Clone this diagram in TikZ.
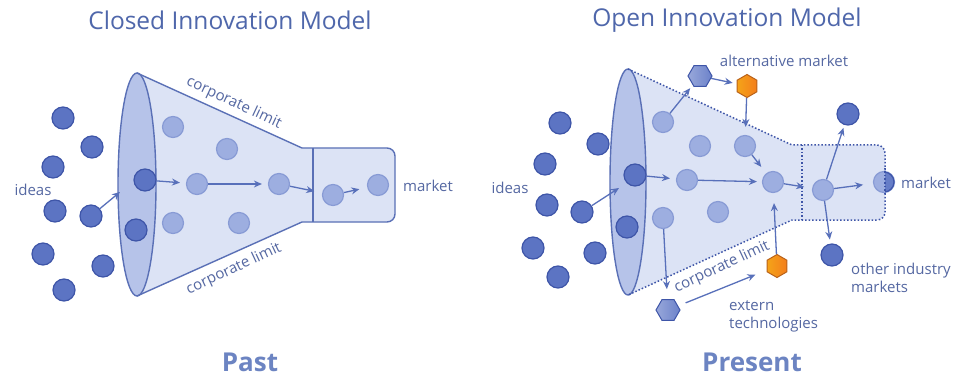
\documentclass[tikz,border=0pt]{standalone}
\usepackage{fontspec}
\setmainfont{Open Sans}
\usetikzlibrary{arrows.meta,shapes.geometric}
\definecolor{funfill}{HTML}{DCE3F5}
\definecolor{funedge}{HTML}{5A70B6}
\definecolor{ellfill}{HTML}{B6C3E9}
\definecolor{lcfill}{HTML}{9DAEE0}
\definecolor{lcedge}{HTML}{889BD5}
\definecolor{dcfill}{HTML}{5C74C3}
\definecolor{dcedge}{HTML}{3E55A8}
\definecolor{arrc}{HTML}{5870BA}
\definecolor{txtc}{HTML}{5568A2}
\definecolor{titc}{HTML}{4F67AB}
\definecolor{pastc}{HTML}{6C84C2}
\definecolor{orfill}{HTML}{F28C1F}
\definecolor{oredge}{HTML}{B9621A}
\definecolor{hbfill}{HTML}{6C82CA}
\tikzset{
  lc/.style={circle,minimum size=21pt,inner sep=0pt,fill=lcfill,draw=lcedge,line width=1.2pt},
  dc/.style={circle,minimum size=22pt,inner sep=0pt,fill=dcfill,draw=dcedge,line width=1.2pt},
  arr/.style={draw=arrc,line width=1.3pt,-{Stealth[length=8pt,width=7pt]}},
  lbl/.style={text=txtc,font=\fontsize{15}{17}\selectfont,inner sep=0pt},
  titl/.style={text=titc,font=\fontsize{24.5}{28}\selectfont},
  era/.style={text=pastc,font=\fontsize{26}{29}\selectfont\bfseries},
  funpath/.style={fill=funfill},
  funline/.style={draw=funedge,line width=1.4pt,line join=round},
  fundot/.style={draw=dcedge,line width=1.5pt,dash pattern=on 1.5pt off 2pt},
  ellip/.style={fill=ellfill,draw=funedge,line width=1.4pt},
  ohex/.style={regular polygon,regular polygon sides=6,shape border rotate=30,minimum size=23pt,inner sep=0pt,left color=orfill!80!yellow,right color=orfill!90!red,draw=oredge,line width=1pt},
  bhex/.style={regular polygon,regular polygon sides=6,minimum size=24pt,inner sep=0pt,left color=hbfill!70!white,right color=hbfill,draw=dcedge,line width=1pt}
}
\begin{document}
\begin{tikzpicture}[x=1pt,y=-1pt]
\useasboundingbox[fill=white] (0,0) rectangle (956,377);
% ================= LEFT: Closed =================
\node[titl] (t1) at (230,20) {Closed Innovation Model};
\node[era] (p1) at (250,362) {Past};
\fill[funpath] (137,73) -- (302,148) -- (387,148) to[out=0,in=90] (395,156) -- (395,214) to[out=-90,in=0] (387,222) -- (302,222) -- (137,296) -- cycle;
\filldraw[ellip] (137,184.5) ellipse [x radius=19pt, y radius=111.5pt];
\draw[funline] (137,73) -- (302,148) -- (387,148) to[out=0,in=90] (395,156) -- (395,214) to[out=-90,in=0] (387,222) -- (302,222) -- (137,296);
\draw[funline] (313,148) -- (313,222);
\node[lbl,rotate=-25] (cl1) at (234,103) {corporate limit};
\node[lbl,rotate=25] (cl2) at (234,269) {corporate limit};
\node[lbl] (id1) at (33,190) {ideas};
\node[lbl] (mk1) at (428,186) {market};
% ideas outside
\node[dc] (i1) at (63,118) {};
\node[dc] (i2) at (92,147) {};
\node[dc] (i3) at (53,167) {};
\node[dc] (i4) at (55,211) {};
\node[dc] (i5) at (91,216) {};
\node[dc] (i6) at (43,254) {};
\node[dc] (i7) at (103,266) {};
\node[dc] (i8) at (64,290) {};
% on ellipse
\node[dc] (d1) at (145,180) {};
\node[dc] (d2) at (136,230) {};
% inside
\node[lc] (c1) at (173,127) {};
\node[lc] (c2) at (227,149) {};
\node[lc] (c3) at (197,184) {};
\node[lc] (c4) at (279,184) {};
\node[lc] (c5) at (173,223) {};
\node[lc] (c6) at (239,223) {};
\node[lc] (c7) at (333,195) {};
\node[lc] (c8) at (378,185) {};
\coordinate (e1) at (120,192);
\draw[arr] (i5) -- (e1);
\draw[arr,shorten >=6pt] (d1) -- (c3);
\draw[arr,shorten >=6pt] (c3) -- (c4);
\draw[arr,shorten >=8pt] (c4) -- (c7);
\draw[arr,shorten >=8pt] (c7) -- (c8);
% ================= RIGHT: Open =================
\node[titl] (t2) at (727,20) {Open Innovation Model};
\node[era] (p2) at (752,362) {Present};
\fill[funpath] (628,69) -- (792,145) -- (877,145) to[out=0,in=90] (885,153) -- (885,212) to[out=-90,in=0] (877,220) -- (792,220) -- (628,295) -- cycle;
\filldraw[ellip] (628,182) ellipse [x radius=18pt, y radius=113pt];
\draw[fundot] (628,69) -- (792,145) -- (877,145) to[out=0,in=90] (885,153) -- (885,212) to[out=-90,in=0] (877,220) -- (792,220) -- (628,295);
\draw[fundot] (802,145) -- (802,220);
\node[lbl,rotate=25] (cl3) at (722,267) {corporate limit};
\node[lbl] (id2) at (510,188) {ideas};
\node[lbl] (mk3) at (926,183) {market};
\node[lbl] (am) at (784,61) {alternative market};
\node[lbl,align=left,anchor=west] (oim) at (851,278) {other industry\\[1pt]markets};
\node[lbl,align=left,anchor=west] (et) at (729,316) {extern\\[1pt]technologies};
% ideas outside
\node[dc] (ri1) at (560,123) {};
\node[dc] (ri2) at (598,144) {};
\node[dc] (ri3) at (545,164) {};
\node[dc] (ri4) at (547,205) {};
\node[dc] (ri5) at (582,212) {};
\node[dc] (ri6) at (533,248) {};
\node[dc] (ri7) at (595,253) {};
\node[dc] (ri8) at (558,277) {};
% on ellipse
\node[dc] (rd1) at (635,175) {};
\node[dc] (rd2) at (627,227) {};
% inside
\node[lc] (rc1) at (663,122) {};
\node[lc] (rc2) at (700,146) {};
\node[lc] (rc4) at (745,146) {};
\node[lc] (rc3) at (687,180) {};
\node[lc] (rc5) at (773,182) {};
\node[lc] (rc6) at (823,190) {};
\node[lc] (rc8) at (663,218) {};
\node[lc] (rc9) at (718,212) {};
% market circle straddling the edge
\node[lc] (mk2) at (884,182) {};
\begin{scope}
\clip (885,165) rectangle (900,200);
\fill[dcfill!85!lcfill] (884,182) circle [radius=10pt];
\draw[dcedge,line width=1.2pt] (884,182) circle [radius=10pt];
\end{scope}
\draw[fundot] (885,168) -- (885,196);
% outer markets
\node[dc] (rd3) at (848,114) {};
\node[dc] (rd4) at (832,255) {};
% hexagons
\node[bhex] (bh1) at (700,76) {};
\node[ohex] (oh1) at (747,86) {};
\node[ohex] (oh2) at (777,266) {};
\node[bhex] (bh2) at (668,310) {};
% arrows
\coordinate (re1) at (619,188);
\draw[arr] (ri5) -- (re1);
\draw[arr,shorten >=6pt] (rd1) -- (rc3);
\draw[arr,shorten >=5pt] (rc3) -- (rc5);
\draw[arr,shorten >=4pt] (rc1) -- (bh1);
\draw[arr,shorten >=4pt] (bh1) -- (oh1);
\draw[arr,shorten >=8pt] (oh1) -- (rc4);
\draw[arr,shorten >=8pt] (rc4) -- (rc5);
\draw[arr,shorten >=8pt] (rc5) -- (rc6);
\draw[arr,shorten >=10pt] (rc6) -- (mk2);
\draw[arr,shorten >=3pt] (rc6) -- (rd3);
\draw[arr,shorten >=4pt] (rc6) -- (rd4);
\draw[arr,shorten >=10pt] (rc8) -- (bh2);
\draw[arr,shorten <=8pt,shorten >=12pt] (bh2) -- (oh2);
\draw[arr,shorten >=10pt] (oh2) -- (rc5);
\end{tikzpicture}
\end{document}
